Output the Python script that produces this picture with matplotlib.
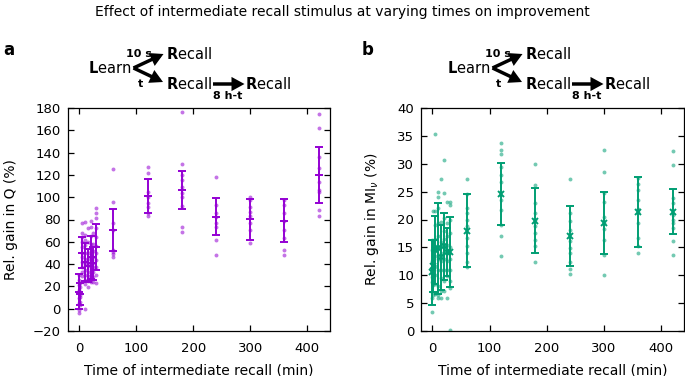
import matplotlib
matplotlib.use("Agg")
import matplotlib.pyplot as plt
import numpy as np

# ---------------- data ----------------
times_a = [0, 1, 5, 10, 15, 20, 25, 30, 60, 120, 180, 240, 300, 360, 420]
mean_a = [15.2, 13.3, 50.3, 42.0, 38.7, 46.0, 40.7, 55.5, 70.5, 101.0, 106.4, 82.5, 80.4, 79.0, 119.9]
sd_a = [15.7, 10.0, 13.7, 17.2, 14.6, 19.5, 14.6, 20.6, 18.7, 15.0, 17.2, 16.5, 18.4, 19.0, 25.4]
pts_a = [
    [30.5, 26, 21.3, 17, 15, 9.3, 4.8, -1.2, -3.6],
    [23, 19.7, 14, 12, 10.8, 6, 3],
    [76.6, 67.6, 64, 60, 55, 50, 46, 42, 37, 33, 29],
    [78, 66, 62, 57, 50, 45, 40, 35, 30, 26, 22, -0.5],
    [72, 60, 50, 45, 41, 38, 33, 29, 25, 19.2],
    [79, 73, 65, 58, 52, 47, 42, 36, 30, 24.2],
    [67.6, 58, 52, 46, 41, 37, 33, 28, 24],
    [90, 85.6, 81, 72, 64, 56, 50, 44, 37, 30, 23.3],
    [125, 96, 76.5, 70.5, 52.6, 51, 49, 46.6],
    [126.8, 122, 105, 100, 94.5, 91, 86, 83],
    [176.7, 129.7, 119.9, 115.4, 109.4, 103.4, 100.4, 92, 73.5, 69.1],
    [117.8, 93, 85.5, 82.5, 76.5, 73.5, 61.6, 48],
    [99.9, 97.5, 91.5, 87, 83.1, 76.5, 70.5, 58.6],
    [97.5, 93, 85.5, 79, 70.5, 63, 52.6, 48],
    [174.3, 161.9, 136.3, 125.9, 113.9, 106.4, 105, 88.5, 83.1],
]

times_b = [0, 1, 5, 10, 15, 20, 25, 30, 60, 120, 180, 240, 300, 360, 420]
mean_b = [10.5, 11.7, 14.6, 14.8, 13.2, 15.2, 14.2, 14.2, 18.0, 24.6, 19.8, 17.0, 19.4, 21.3, 21.4]
sd_b = [5.8, 4.7, 6.1, 8.1, 5.9, 6.0, 4.3, 6.3, 6.6, 5.5, 5.8, 5.4, 5.6, 6.3, 4.0]
pts_b = [
    [16.3, 14.5, 12.5, 11, 9.6, 8.8, 7, 5.9, 3.4],
    [21.6, 16, 13, 11.5, 10, 8.2, 6.4],
    [35.3, 21.6, 19, 16.5, 14.8, 13.5, 11.6, 10, 8.5, 6.6],
    [25, 24, 22, 19.4, 17, 15, 13, 11, 8, 6.4, 5.9],
    [27.3, 19.5, 16, 14, 12.5, 11, 9.5, 7.2, 5.9],
    [30.6, 24.8, 20.2, 18, 16.5, 15, 13, 11, 9, 7.2],
    [23.2, 19.4, 17, 15.5, 14, 12.5, 11, 9.9, 5.9],
    [23.2, 22.6, 20, 17.5, 15, 13, 11, 9, 7.7, 0.2],
    [27.2, 24.6, 22, 21.1, 20, 18.8, 16.7, 15.2, 14, 12.3, 11.4],
    [33.8, 32.4, 31.8, 29.4, 27.9, 26.7, 23.5, 21.7, 19.1, 17, 13.4],
    [30, 26.2, 22.9, 21.1, 20, 18.8, 17.6, 16.4, 15.2, 12.4],
    [27.2, 21.1, 19.7, 18.2, 16.1, 14.9, 14, 12.3, 11.1, 10.2],
    [32.5, 28.5, 24.8, 23.2, 20.5, 19.4, 18.3, 16.4, 13.7, 10],
    [27.5, 26.4, 25.3, 23.5, 21.9, 21.3, 19.4, 16.7, 15.2, 14],
    [32.2, 29.8, 23.8, 22.9, 20.8, 20, 19.4, 18.5, 16.2, 13.7],
]

xticks = [0, 100, 200, 300, 400]
yticks_a = list(range(-20, 181, 20))
yticks_b = list(range(0, 41, 5))

title = "Effect of intermediate recall stimulus at varying times on improvement"
xlabel = "Time of intermediate recall (min)"
ylabel_a = "Rel. gain in Q (%)"
ylabel_b = r"Rel. gain in MI$_\nu$ (%)"

col_a = "#9400d3"
col_b = "#009e73"

# ---------------- figure ----------------
W, H = 685, 376
fig = plt.figure(figsize=(W / 100, H / 100), dpi=100)
plt.rcParams["font.family"] = ["DejaVu Sans"]


def fx(px):
    return px / W


def fy(py):
    return 1 - py / H


ax_a = fig.add_axes([fx(67.7), fy(331), fx(330) - fx(67.7), fy(108) - fy(331)])
ax_b = fig.add_axes([fx(421), fy(331), fx(684) - fx(421), fy(108) - fy(331)])


def panel(ax, times, means, sds, pts, col, marker, msize, ylim, yticks, ylabel, ylab_x):
    for t, p in zip(times, pts):
        ax.scatter([t] * len(p), p, s=8, color=col, alpha=0.55, linewidths=0, zorder=2)
    ax.errorbar(times, means, yerr=sds, fmt=marker, color=col, ecolor=col,
                elinewidth=1.4, capsize=3, capthick=1.4, markersize=msize,
                markeredgewidth=1.4, zorder=3)
    ax.set_xlim(-20, 440)
    ax.set_ylim(*ylim)
    ax.set_xticks(xticks)
    ax.set_yticks(yticks)
    ax.tick_params(direction="in", length=4, width=0.9, top=True, right=True,
                   labelsize=9.5, colors="black")
    ax.tick_params(axis="x", pad=8)
    ax.tick_params(axis="y", pad=5)
    for s in ax.spines.values():
        s.set_linewidth(0.9)
    ax.set_xlabel(xlabel, fontsize=10)
    ax.xaxis.set_label_coords(0.5, -0.145)
    ax.set_ylabel(ylabel, fontsize=10, va="center")
    ax.yaxis.set_label_coords(ylab_x, 0.5)


panel(ax_a, times_a, mean_a, sd_a, pts_a, col_a, "+", 6, (-20, 180), yticks_a, ylabel_a,
      (11 - 67.7) / (330 - 67.7))
panel(ax_b, times_b, mean_b, sd_b, pts_b, col_b, "x", 5, (0, 40), yticks_b, ylabel_b,
      (372 - 421) / (684 - 421))

fig.text(0.5, fy(12), title, ha="center", va="center", fontsize=10)
fig.text(fx(3), fy(50), "a", ha="left", va="center", fontsize=12, fontweight="bold")
fig.text(fx(362), fy(50), "b", ha="left", va="center", fontsize=12, fontweight="bold")


def schematic(dx):
    fs = 10.5
    fig.text(fx(131.7 + dx), fy(68), r"$\mathbf{L}$earn", ha="right", va="center", fontsize=fs)
    fig.text(fx(166 + dx), fy(54), r"$\mathbf{R}$ecall", ha="left", va="center", fontsize=fs)
    fig.text(fx(166 + dx), fy(84), r"$\mathbf{R}$ecall", ha="left", va="center", fontsize=fs)
    fig.text(fx(245 + dx), fy(84), r"$\mathbf{R}$ecall", ha="left", va="center", fontsize=fs)
    fig.text(fx(139 + dx), fy(54), "10 s", ha="center", va="center", fontsize=8, fontweight="bold")
    fig.text(fx(140 + dx), fy(84), "t", ha="center", va="center", fontsize=8, fontweight="bold")
    fig.text(fx(228 + dx), fy(96), "8 h-t", ha="center", va="center", fontsize=8, fontweight="bold")
    ap = dict(arrowstyle="-|>,head_length=0.55,head_width=0.3", color="black", lw=2.5,
              shrinkA=0, shrinkB=0, mutation_scale=10, capstyle="butt", joinstyle="miter")
    for (x0, y0, x1, y1) in [(133.5, 68, 163.5, 54), (133.5, 68, 163, 82), (213, 84, 244.5, 84)]:
        fig.add_artist(matplotlib.patches.FancyArrowPatch(
            (fx(x0 + dx), fy(y0)), (fx(x1 + dx), fy(y1)), transform=fig.transFigure, **ap))


schematic(0)
schematic(359)

fig.savefig("out.png", dpi=100)
